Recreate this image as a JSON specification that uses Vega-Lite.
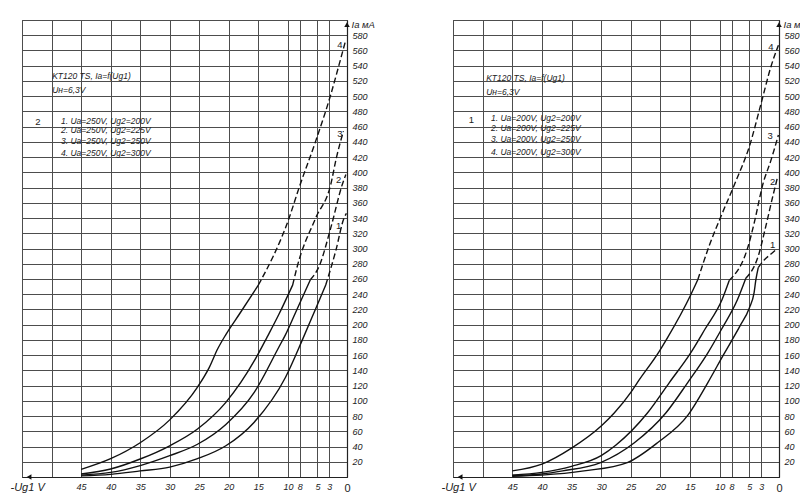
{
  "$schema": "https://vega.github.io/schema/vega-lite/v6.json",
  "background": "white",
  "padding": {"left": 9, "top": 15, "right": 0, "bottom": 5},
  "datasets": {
    "curves": [
      {"p":"L","c":"4","s":"solid","V":45,"I":10},{"p":"L","c":"4","s":"solid","V":40,"I":24},{"p":"L","c":"4","s":"solid","V":35,"I":45},{"p":"L","c":"4","s":"solid","V":30,"I":75},{"p":"L","c":"4","s":"solid","V":25.3,"I":118},{"p":"L","c":"4","s":"solid","V":23.3,"I":144},{"p":"L","c":"4","s":"solid","V":21.9,"I":168},{"p":"L","c":"4","s":"solid","V":20.5,"I":187},{"p":"L","c":"4","s":"solid","V":18.2,"I":214},{"p":"L","c":"4","s":"solid","V":15,"I":252},
      {"p":"L","c":"4","s":"dash","V":15,"I":252},{"p":"L","c":"4","s":"dash","V":9.8,"I":340},{"p":"L","c":"4","s":"dash","V":8.1,"I":380},{"p":"L","c":"4","s":"dash","V":5.3,"I":441},{"p":"L","c":"4","s":"dash","V":2.75,"I":502},{"p":"L","c":"4","s":"dash","V":1.35,"I":541},{"p":"L","c":"4","s":"dash","V":0.2,"I":574},
      {"p":"L","c":"3","s":"solid","V":45,"I":4},{"p":"L","c":"3","s":"solid","V":40,"I":10.5},{"p":"L","c":"3","s":"solid","V":35,"I":23.6},{"p":"L","c":"3","s":"solid","V":30,"I":41},{"p":"L","c":"3","s":"solid","V":25.3,"I":63},{"p":"L","c":"3","s":"solid","V":20.5,"I":98},{"p":"L","c":"3","s":"solid","V":15.5,"I":155},{"p":"L","c":"3","s":"solid","V":13.5,"I":184},{"p":"L","c":"3","s":"solid","V":11.5,"I":214},{"p":"L","c":"3","s":"solid","V":9.2,"I":252},
      {"p":"L","c":"3","s":"dash","V":9.2,"I":252},{"p":"L","c":"3","s":"dash","V":8.4,"I":277},{"p":"L","c":"3","s":"dash","V":5.3,"I":340},{"p":"L","c":"3","s":"dash","V":2.75,"I":384},{"p":"L","c":"3","s":"dash","V":1.8,"I":419},{"p":"L","c":"3","s":"dash","V":0.6,"I":454},
      {"p":"L","c":"2","s":"solid","V":45,"I":2.5},{"p":"L","c":"2","s":"solid","V":40,"I":6},{"p":"L","c":"2","s":"solid","V":35,"I":15},{"p":"L","c":"2","s":"solid","V":30,"I":28},{"p":"L","c":"2","s":"solid","V":25.3,"I":43},{"p":"L","c":"2","s":"solid","V":20.5,"I":69},{"p":"L","c":"2","s":"solid","V":15.7,"I":111},{"p":"L","c":"2","s":"solid","V":11.5,"I":171},{"p":"L","c":"2","s":"solid","V":10.4,"I":187},{"p":"L","c":"2","s":"solid","V":8.7,"I":216},{"p":"L","c":"2","s":"solid","V":6.2,"I":259},
      {"p":"L","c":"2","s":"dash","V":6.2,"I":259},{"p":"L","c":"2","s":"dash","V":4.7,"I":277},{"p":"L","c":"2","s":"dash","V":2.75,"I":327},{"p":"L","c":"2","s":"dash","V":0.8,"I":384},{"p":"L","c":"2","s":"dash","V":0.2,"I":397},
      {"p":"L","c":"1","s":"solid","V":45,"I":1.5},{"p":"L","c":"1","s":"solid","V":40,"I":3.5},{"p":"L","c":"1","s":"solid","V":35,"I":8},{"p":"L","c":"1","s":"solid","V":30,"I":13},{"p":"L","c":"1","s":"solid","V":25.3,"I":24},{"p":"L","c":"1","s":"solid","V":20.5,"I":41},{"p":"L","c":"1","s":"solid","V":15.7,"I":72},{"p":"L","c":"1","s":"solid","V":10.4,"I":131},{"p":"L","c":"1","s":"solid","V":7.5,"I":181},{"p":"L","c":"1","s":"solid","V":5.3,"I":221},{"p":"L","c":"1","s":"solid","V":3.6,"I":252},
      {"p":"L","c":"1","s":"dash","V":3.6,"I":252},{"p":"L","c":"1","s":"dash","V":1.9,"I":297},{"p":"L","c":"1","s":"dash","V":0.5,"I":340},{"p":"L","c":"1","s":"dash","V":0.1,"I":346},

      {"p":"R","c":"4","s":"solid","V":45,"I":8},{"p":"R","c":"4","s":"solid","V":40,"I":17},{"p":"R","c":"4","s":"solid","V":35,"I":38},{"p":"R","c":"4","s":"solid","V":30,"I":67},{"p":"R","c":"4","s":"solid","V":27.8,"I":84},{"p":"R","c":"4","s":"solid","V":25,"I":111},{"p":"R","c":"4","s":"solid","V":23.9,"I":124},{"p":"R","c":"4","s":"solid","V":20.2,"I":165},{"p":"R","c":"4","s":"solid","V":18.8,"I":183},{"p":"R","c":"4","s":"solid","V":14.9,"I":239},{"p":"R","c":"4","s":"solid","V":13.7,"I":259},
      {"p":"R","c":"4","s":"dash","V":13.7,"I":259},{"p":"R","c":"4","s":"dash","V":11.8,"I":303},{"p":"R","c":"4","s":"dash","V":9.8,"I":342},{"p":"R","c":"4","s":"dash","V":7.3,"I":388},{"p":"R","c":"4","s":"dash","V":5,"I":434},{"p":"R","c":"4","s":"dash","V":3,"I":491},{"p":"R","c":"4","s":"dash","V":1.35,"I":539},{"p":"R","c":"4","s":"dash","V":0.1,"I":567},
      {"p":"R","c":"3","s":"solid","V":45,"I":2.5},{"p":"R","c":"3","s":"solid","V":40,"I":6},{"p":"R","c":"3","s":"solid","V":35,"I":14},{"p":"R","c":"3","s":"solid","V":30,"I":28},{"p":"R","c":"3","s":"solid","V":27.5,"I":42},{"p":"R","c":"3","s":"solid","V":22.2,"I":84},{"p":"R","c":"3","s":"solid","V":18.5,"I":124},{"p":"R","c":"3","s":"solid","V":14.9,"I":163},{"p":"R","c":"3","s":"solid","V":12.5,"I":194},{"p":"R","c":"3","s":"solid","V":9.6,"I":233},{"p":"R","c":"3","s":"solid","V":8.4,"I":258},
      {"p":"R","c":"3","s":"dash","V":8.4,"I":258},{"p":"R","c":"3","s":"dash","V":5.2,"I":303},{"p":"R","c":"3","s":"dash","V":4.2,"I":333},{"p":"R","c":"3","s":"dash","V":2.7,"I":385},{"p":"R","c":"3","s":"dash","V":1.35,"I":416},{"p":"R","c":"3","s":"dash","V":0.1,"I":449},
      {"p":"R","c":"2","s":"solid","V":45,"I":2},{"p":"R","c":"2","s":"solid","V":40,"I":4},{"p":"R","c":"2","s":"solid","V":36.5,"I":8},{"p":"R","c":"2","s":"solid","V":30.1,"I":19},{"p":"R","c":"2","s":"solid","V":24.4,"I":45},{"p":"R","c":"2","s":"solid","V":19.1,"I":84},{"p":"R","c":"2","s":"solid","V":15.4,"I":124},{"p":"R","c":"2","s":"solid","V":12,"I":163},{"p":"R","c":"2","s":"solid","V":9.7,"I":194},{"p":"R","c":"2","s":"solid","V":7,"I":233},{"p":"R","c":"2","s":"solid","V":5.6,"I":261},
      {"p":"R","c":"2","s":"dash","V":5.6,"I":261},{"p":"R","c":"2","s":"dash","V":3.5,"I":290},{"p":"R","c":"2","s":"dash","V":2.2,"I":330},{"p":"R","c":"2","s":"dash","V":1,"I":370},{"p":"R","c":"2","s":"dash","V":0.2,"I":395},
      {"p":"R","c":"1","s":"solid","V":45,"I":1},{"p":"R","c":"1","s":"solid","V":40,"I":2.5},{"p":"R","c":"1","s":"solid","V":32.9,"I":8},{"p":"R","c":"1","s":"solid","V":25.6,"I":19},{"p":"R","c":"1","s":"solid","V":20.5,"I":45},{"p":"R","c":"1","s":"solid","V":15.3,"I":82},{"p":"R","c":"1","s":"solid","V":12,"I":124},{"p":"R","c":"1","s":"solid","V":9.4,"I":160},{"p":"R","c":"1","s":"solid","V":6.6,"I":198},{"p":"R","c":"1","s":"solid","V":5,"I":222},{"p":"R","c":"1","s":"solid","V":4.2,"I":242},{"p":"R","c":"1","s":"solid","V":3.9,"I":259},{"p":"R","c":"1","s":"solid","V":3.5,"I":275},
      {"p":"R","c":"1","s":"dash","V":3.5,"I":275},{"p":"R","c":"1","s":"dash","V":2.5,"I":285},{"p":"R","c":"1","s":"dash","V":1.3,"I":293},{"p":"R","c":"1","s":"dash","V":0.4,"I":299}
    ],
    "notes": [
      {"p":"L","k":"note","V":49.9,"I":527,"t":"KT120 TS, Ia=f(Ug1)"},
      {"p":"L","k":"note","V":49.9,"I":508,"t":"Uн=6,3V"},
      {"p":"L","k":"note","V":48.4,"I":468,"t":"1.   Ua=250V, Ug2=200V"},
      {"p":"L","k":"note","V":48.4,"I":455,"t":"2.   Ua=250V, Ug2=225V"},
      {"p":"L","k":"note","V":48.4,"I":441,"t":"3.   Ua=250V, Ug2=250V"},
      {"p":"L","k":"note","V":48.4,"I":425,"t":"4.   Ua=250V, Ug2=300V"},
      {"p":"L","k":"panel","V":52.3,"I":466,"t":"2"},
      {"p":"L","k":"curve","V":1.2,"I":567,"t":"4"},
      {"p":"L","k":"curve","V":1.2,"I":450,"t":"3"},
      {"p":"L","k":"curve","V":1.4,"I":390,"t":"2"},
      {"p":"L","k":"curve","V":1.4,"I":329,"t":"1"},
      {"p":"R","k":"note","V":49.4,"I":524,"t":"KT120 TS, Ia=f(Ug1)"},
      {"p":"R","k":"note","V":49.4,"I":506,"t":"Uн=6,3V"},
      {"p":"R","k":"note","V":48.6,"I":471,"t":"1.   Ua=200V, Ug2=200V"},
      {"p":"R","k":"note","V":48.6,"I":458,"t":"2.   Ua=200V, Ug2=225V"},
      {"p":"R","k":"note","V":48.6,"I":444,"t":"3.   Ua=200V, Ug2=250V"},
      {"p":"R","k":"note","V":48.6,"I":427,"t":"4.   Ua=200V, Ug2=300V"},
      {"p":"R","k":"panel","V":51.9,"I":469,"t":"1"},
      {"p":"R","k":"curve","V":1.35,"I":564,"t":"4"},
      {"p":"R","k":"curve","V":1.5,"I":448,"t":"3"},
      {"p":"R","k":"curve","V":1.06,"I":387,"t":"2"},
      {"p":"R","k":"curve","V":1.06,"I":305,"t":"1"}
    ],
    "arrows": [
      {"p":"L","V":0,"I":594,"sh":"triangle-up"},
      {"p":"L","V":53.8,"I":0,"sh":"triangle-left"},
      {"p":"R","V":0,"I":594,"sh":"triangle-up"},
      {"p":"R","V":53.8,"I":0,"sh":"triangle-left"}
    ]
  },
  "hconcat": [
    {
      "width": 325,
      "height": 457,
      "encoding": {
        "x": {"field": "V", "type": "quantitative", "scale": {"domain": [0, 55], "reverse": true, "nice": false, "zero": false},
              "axis": {"title": "-Ug1 V", "values": [0, 3, 5, 8, 10, 15, 20, 25, 30, 35, 40, 45, 50, 55], "labelExpr": "datum.value >= 50 ? '' : datum.label"}},
        "y": {"field": "I", "type": "quantitative", "scale": {"domain": [0, 600], "nice": false},
              "axis": {"orient": "right", "title": "Ia мA", "values": [0, 20, 40, 60, 80, 100, 120, 140, 160, 180, 200, 220, 240, 260, 280, 300, 320, 340, 360, 380, 400, 420, 440, 460, 480, 500, 520, 540, 560, 580, 600], "labelExpr": "datum.value === 0 || datum.value === 600 ? '' : datum.label"}}
      },
      "layer": [
        {"data": {"name": "curves"}, "transform": [{"filter": "datum.p === 'L' && datum.s === 'solid'"}],
         "mark": {"type": "line", "color": "#111", "strokeWidth": 1.4, "interpolate": "monotone"},
         "encoding": {"detail": {"field": "c"}, "order": {"field": "I", "type": "quantitative"}}},
        {"data": {"name": "curves"}, "transform": [{"filter": "datum.p === 'L' && datum.s === 'dash'"}],
         "mark": {"type": "line", "color": "#111", "strokeWidth": 1.4, "strokeDash": [6, 3], "interpolate": "monotone"},
         "encoding": {"detail": {"field": "c"}, "order": {"field": "I", "type": "quantitative"}}},
        {"data": {"name": "notes"}, "transform": [{"filter": "datum.p === 'L' && datum.k === 'note'"}],
         "mark": {"type": "text", "align": "left", "baseline": "middle", "font": "Liberation Sans", "fontStyle": "italic", "fontSize": 8.5, "color": "#222"},
         "encoding": {"text": {"field": "t"}}},
        {"data": {"name": "notes"}, "transform": [{"filter": "datum.p === 'L' && datum.k !== 'note'"}],
         "mark": {"type": "text", "align": "center", "baseline": "middle", "font": "Liberation Sans", "fontSize": 9.5, "color": "#222"},
         "encoding": {"text": {"field": "t"}}},
        {"data": {"name": "arrows"}, "transform": [{"filter": "datum.p === 'L'"}],
         "mark": {"type": "point", "filled": true, "color": "#111", "size": 30, "opacity": 1},
         "encoding": {"shape": {"field": "sh", "type": "nominal", "scale": null}}}
      ]
    },
    {
      "width": 326,
      "height": 457,
      "encoding": {
        "x": {"field": "V", "type": "quantitative", "scale": {"domain": [0, 55], "reverse": true, "nice": false, "zero": false},
              "axis": {"title": "-Ug1 V", "values": [0, 3, 5, 8, 10, 15, 20, 25, 30, 35, 40, 45, 50, 55], "labelExpr": "datum.value >= 50 ? '' : datum.label"}},
        "y": {"field": "I", "type": "quantitative", "scale": {"domain": [0, 600], "nice": false},
              "axis": {"orient": "right", "title": "Ia мA", "values": [0, 20, 40, 60, 80, 100, 120, 140, 160, 180, 200, 220, 240, 260, 280, 300, 320, 340, 360, 380, 400, 420, 440, 460, 480, 500, 520, 540, 560, 580, 600], "labelExpr": "datum.value === 0 || datum.value === 600 ? '' : datum.label"}}
      },
      "layer": [
        {"data": {"name": "curves"}, "transform": [{"filter": "datum.p === 'R' && datum.s === 'solid'"}],
         "mark": {"type": "line", "color": "#111", "strokeWidth": 1.4, "interpolate": "monotone"},
         "encoding": {"detail": {"field": "c"}, "order": {"field": "I", "type": "quantitative"}}},
        {"data": {"name": "curves"}, "transform": [{"filter": "datum.p === 'R' && datum.s === 'dash'"}],
         "mark": {"type": "line", "color": "#111", "strokeWidth": 1.4, "strokeDash": [6, 3], "interpolate": "monotone"},
         "encoding": {"detail": {"field": "c"}, "order": {"field": "I", "type": "quantitative"}}},
        {"data": {"name": "notes"}, "transform": [{"filter": "datum.p === 'R' && datum.k === 'note'"}],
         "mark": {"type": "text", "align": "left", "baseline": "middle", "font": "Liberation Sans", "fontStyle": "italic", "fontSize": 8.5, "color": "#222"},
         "encoding": {"text": {"field": "t"}}},
        {"data": {"name": "notes"}, "transform": [{"filter": "datum.p === 'R' && datum.k !== 'note'"}],
         "mark": {"type": "text", "align": "center", "baseline": "middle", "font": "Liberation Sans", "fontSize": 9.5, "color": "#222"},
         "encoding": {"text": {"field": "t"}}},
        {"data": {"name": "arrows"}, "transform": [{"filter": "datum.p === 'R'"}],
         "mark": {"type": "point", "filled": true, "color": "#111", "size": 30, "opacity": 1},
         "encoding": {"shape": {"field": "sh", "type": "nominal", "scale": null}}}
      ]
    }
  ],
  "spacing": 106,
  "bounds": "flush",
  "config": {
    "view": {"stroke": "#333", "strokeWidth": 1},
    "axis": {
      "ticks": false,
      "domain": true,
      "domainColor": "#222",
      "domainWidth": 1.2,
      "grid": true,
      "gridColor": "#4d4d4d",
      "gridWidth": 1,
      "labelFont": "Liberation Sans",
      "labelFontStyle": "italic",
      "labelFontSize": 9,
      "labelColor": "#222",
      "labelOverlap": false,
      "labelFlush": false,
      "titleFont": "Liberation Sans",
      "titleFontStyle": "italic",
      "titleFontWeight": "normal",
      "titleColor": "#222"
    },
    "axisX": {
      "labelPadding": 5,
      "labelFontSize": {"condition": {"test": "datum.value === 0", "value": 11}, "value": 9},
      "labelFontStyle": {"condition": {"test": "datum.value === 0", "value": "normal"}, "value": "italic"},
      "titleFontSize": 11,
      "titleAnchor": "start",
      "titleAlign": "left",
      "titleBaseline": "middle",
      "titleX": -12,
      "titleY": 10
    },
    "axisY": {
      "labelPadding": 5,
      "titleAngle": 0,
      "titleFontSize": 9.5,
      "titleAlign": "left",
      "titleBaseline": "middle",
      "titleX": 4,
      "titleY": 4
    }
  }
}
